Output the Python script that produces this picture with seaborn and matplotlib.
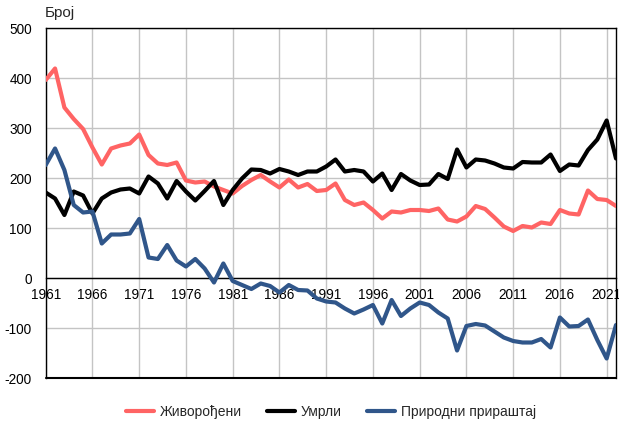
import numpy as np
import pandas as pd
import matplotlib
matplotlib.use("Agg")
import matplotlib.pyplot as plt
import seaborn as sns
from matplotlib.lines import Line2D

years = list(range(1961, 2023))

births = [396, 419, 341, 318, 298, 261, 227, 259, 265, 269,
          287, 246, 229, 226, 231, 195, 191, 193, 183, 176,
          169, 184, 196, 206, 193, 181, 197, 181, 188, 174,
          176, 189, 156, 146, 151, 136, 119, 133, 131, 136,
          136, 134, 139, 117, 113, 123, 144, 138, 121, 103,
          94, 104, 101, 111, 108, 136, 129, 127, 175, 158,
          156, 144]

deaths = [171, 159, 126, 173, 165, 129, 159, 171, 177, 179,
          169, 203, 189, 159, 194, 173, 155, 174, 194, 146,
          176, 199, 217, 216, 209, 218, 213, 206, 213, 213,
          223, 237, 213, 216, 213, 193, 209, 176, 208, 195,
          186, 187, 208, 198, 257, 221, 237, 235, 229, 221,
          219, 232, 231, 231, 247, 214, 227, 225, 256, 277,
          315, 239]

natural = [226, 259, 216, 146, 131, 133, 69, 87, 87, 89,
           118, 41, 38, 66, 35, 23, 38, 19, -9, 29,
           -6, -14, -22, -11, -16, -29, -14, -24, -25, -41,
           -47, -49, -61, -71, -63, -54, -91, -44, -76, -61,
           -49, -54, -69, -81, -145, -96, -92, -95, -107, -119,
           -126, -129, -129, -122, -139, -79, -97, -96, -83, -124,
           -161, -94]

series_names = ["Живорођени", "Умрли", "Природни прираштај"]
colors = ["#FF6464", "#000000", "#30568A"]
xticks = list(range(1961, 2022, 5))
yticks = [-200, -100, 0, 100, 200, 300, 400, 500]

df = pd.DataFrame({
    "Година": years * 3,
    "Број": births + deaths + natural,
    "Серија": [series_names[0]] * len(years) + [series_names[1]] * len(years) + [series_names[2]] * len(years),
})

sns.set_style("white")
plt.rcParams["font.family"] = ["Liberation Sans", "DejaVu Sans"]

W, H = 619, 421
fig = plt.figure(figsize=(W / 100, H / 100), dpi=100)
ax = fig.add_axes([45.7 / W, 1 - 378 / H, (616 - 45.7) / W, (378 - 28) / H])

sns.lineplot(data=df, x="Година", y="Број", hue="Серија", hue_order=series_names,
             palette=colors, linewidth=3.0, ax=ax, legend=False, zorder=3)

ax.set_xlim(1961, 2022)
ax.set_ylim(-200, 500)
ax.set_xticks(xticks)
ax.set_xticklabels([str(t) for t in xticks])
ax.set_yticks(yticks)
ax.set_yticklabels([str(t) for t in yticks])
ax.grid(True, color="#C4C4C4", linewidth=1.0, zorder=0)
ax.set_axisbelow(True)
ax.set_xlabel("")
ax.set_ylabel("")

for s in ["left", "right", "top"]:
    ax.spines[s].set_visible(True)
    ax.spines[s].set_color("black")
    ax.spines[s].set_linewidth(1.0)
ax.spines["bottom"].set_position(("data", 0))
ax.spines["bottom"].set_color("black")
ax.spines["bottom"].set_linewidth(1.0)
ax.axhline(-200, color="black", linewidth=1.5, clip_on=False, zorder=4)

ax.tick_params(axis="both", length=0, labelsize=9.8, colors="black")
ax.tick_params(axis="x", pad=7)
ax.tick_params(axis="y", pad=10)

fig.text(45 / W, 1 - 13 / H, "Број", fontsize=11, ha="left", va="center")

handles = [Line2D([0], [0], color=c, linewidth=3.0) for c in colors]
fig.legend(handles, series_names, loc="center", bbox_to_anchor=(331 / W, 1 - 412 / H),
           ncol=3, frameon=False, fontsize=10, handlelength=2.0, handletextpad=0.45,
           columnspacing=1.8)

fig.savefig("out.png", dpi=100)
